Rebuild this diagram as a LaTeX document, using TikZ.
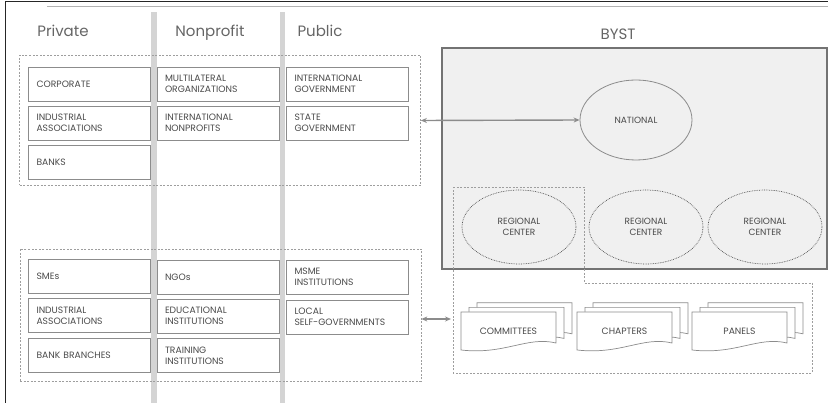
\documentclass[tikz,border=0pt]{standalone}
\usepackage{fontspec}
\setmainfont{Poppins}
\usetikzlibrary{arrows.meta,shapes.geometric,positioning}
\definecolor{txt}{HTML}{4A4A4A}
\definecolor{rim}{HTML}{8C8C8C}
\definecolor{barcol}{HTML}{D4D4D4}
\definecolor{bystfill}{HTML}{F0F0F0}
\colorlet{dotgrey}{black!38}

\tikzset{
  entry/.style={draw=rim, fill=white, line width=0.8pt, minimum height=34pt,
    text width=106pt, inner xsep=8pt, align=left, text=txt,
    font=\fontsize{9.2}{10.8}\selectfont},
  grp/.style={draw=dotgrey, line width=0.7pt, dash pattern=on 2pt off 1.5pt},
  hdr/.style={text=txt!85, anchor=base, font=\fontsize{15}{17}\selectfont},
  region/.style={ellipse, draw=txt, densely dotted, line width=0.7pt,
    minimum width=114pt, minimum height=74pt, align=center, text=txt,
    inner sep=0pt, font=\fontsize{9}{10.5}\selectfont},
  link/.style={{Stealth[length=6pt,width=5pt]}-{Stealth[length=6pt,width=5pt]},
    draw=black!45, line width=1.4pt},
  paper/.style={draw=rim, fill=white, line width=0.7pt},
  stack/.pic={
    \foreach \d in {2,1,0}{
      \draw[paper, shift={(8*\d,-4.6*\d)}] (0,0) -- (95,0) -- (95,31)
        .. controls (66,24) and (44,43) .. (0,38) -- cycle;
    }
  }
}

\begin{document}
\begin{tikzpicture}[x=1pt,y=-1pt]
  \useasboundingbox (0,0) rectangle (828,403);
  % frame
  \draw[black!85, line width=1pt] (5,403) -- (5,2) -- (828,2);
  \draw[black!30, line width=0.8pt] (47,6) -- (828,6);
  % column bars
  \fill[barcol] (151,12) rectangle (156.5,403);
  \fill[barcol] (279.5,12) rectangle (285,403);

  \node[hdr] (hpriv) at (63,37) {Private};
  \node[hdr] (hnon) at (210,37) {Nonprofit};
  \node[hdr] (hpub) at (320,37) {Public};
  \node[hdr] (hbyst) at (618,40) {BYST};

  % national level
  \node[grp, minimum width=401pt, minimum height=130pt] (topgrp) at (220,120.5) {};
  \node[entry] (corp) at (89.5,84) {CORPORATE};
  \node[entry] (indA) at (89.5,123) {INDUSTRIAL\\ASSOCIATIONS};
  \node[entry] (bank) at (89.5,162) {BANKS};
  \node[entry] (multi) at (218,84) {MULTILATERAL\\ORGANIZATIONS};
  \node[entry] (intnp) at (218,123) {INTERNATIONAL\\NONPROFITS};
  \node[entry] (intgov) at (347.5,84) {INTERNATIONAL\\GOVERNMENT};
  \node[entry] (stgov) at (347.5,123) {STATE\\GOVERNMENT};

  % local level
  \node[grp, minimum width=401pt, minimum height=132pt] (botgrp) at (220.5,315) {};
  \node[entry] (sme) at (89.5,276) {SMEs};
  \node[entry] (indB) at (89.5,315.5) {INDUSTRIAL\\ASSOCIATIONS};
  \node[entry] (bbr) at (89.5,355) {BANK BRANCHES};
  \node[entry] (ngo) at (218,277) {NGOs};
  \node[entry] (edu) at (218,316) {EDUCATIONAL\\INSTITUTIONS};
  \node[entry] (train) at (218,355.5) {TRAINING\\INSTITUTIONS};
  \node[entry] (msme) at (347.5,277) {MSME\\INSTITUTIONS};
  \node[entry] (lsg) at (347.5,317) {LOCAL\\SELF-GOVERNMENTS};

  % BYST
  \draw[draw=black!55, fill=bystfill, line width=1.1pt] (442,48) rectangle (827,269);
  \node[ellipse, draw=rim, line width=0.8pt, minimum width=112pt, minimum height=80pt,
    text=txt, font=\fontsize{9}{10.5}\selectfont] (nat) at (636,120) {NATIONAL};
  \node[region] (rc1) at (519,227) {REGIONAL\\CENTER};
  \node[region] (rc2) at (646,227) {REGIONAL\\CENTER};
  \node[region] (rc3) at (765,227) {REGIONAL\\CENTER};
  \draw[grp] (453,187) -- (584,187) -- (584,283) -- (812,283) -- (812,373) -- (453,373) -- cycle;

  \pic at (461,312) {stack};
  \pic at (577,312) {stack};
  \pic at (692,312) {stack};
  \node[text=txt, font=\fontsize{9.2}{10}\selectfont] (comm) at (508.5,331) {COMMITTEES};
  \node[text=txt, font=\fontsize{9.2}{10}\selectfont] (chap) at (624.5,331) {CHAPTERS};
  \node[text=txt, font=\fontsize{9.2}{10}\selectfont] (pan) at (739.5,331) {PANELS};

  % links
  \coordinate (tiein) at (451,319);
  \draw[link] (topgrp.east) -- (nat.west);
  \draw[link] (botgrp.east |- tiein) -- (tiein);
\end{tikzpicture}
\end{document}
